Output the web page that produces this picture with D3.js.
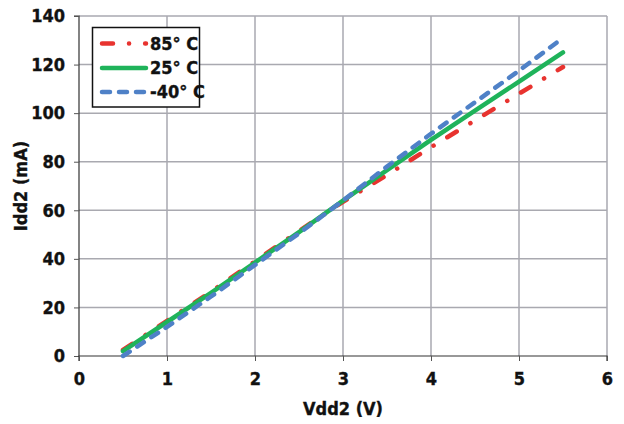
<!DOCTYPE html>
<html>
<head>
<meta charset="utf-8">
<script src="https://cdn.jsdelivr.net/npm/d3@7"></script>
<style>
  html, body { margin: 0; padding: 0; background: #fff; }
  svg { display: block; }
  text { font-family: "Liberation Sans Narrow", "DejaVu Sans Condensed", "Roboto Condensed", sans-serif; font-weight: bold; font-stretch: condensed; fill: #111; stroke: #111; stroke-width: 0.35px; }
</style>
</head>
<body>
<svg id="chart" width="624" height="424"></svg>
<script>
const vdd = [0.5, 1, 1.5, 2, 2.5, 3, 3.5, 4, 4.5, 5, 5.5];
const idd85 = [2.5, 14.5, 26.5, 39, 51.5, 63.5, 74.5, 86, 97, 108, 119];
const idd25 = [2, 14, 26, 38.5, 51, 64, 76.5, 89, 101, 113, 125];
const iddM40 = [0, 12, 24.5, 37.5, 50.5, 64, 78, 91.5, 104.5, 117.5, 131];
const seriesNames = ["85° C", "25° C", "-40° C"];
const seriesColors = ["#e8332f", "#1fb35a", "#4f81c7"];
const xTicks = [0, 1, 2, 3, 4, 5, 6];
const yTicks = [0, 20, 40, 60, 80, 100, 120, 140];
const xTitle = "Vdd2 (V)";
const yTitle = "Idd2 (mA)";

const svg = d3.select("#chart");
const m = { left: 79, right: 607, top: 16, bottom: 356 };
const x = d3.scaleLinear().domain([0, 6]).range([m.left, m.right]);
const y = d3.scaleLinear().domain([0, 140]).range([m.bottom, m.top]);

// grid
const grid = svg.append("g").attr("stroke", "#a9a9b0").attr("stroke-width", 1.5);
xTicks.filter(d => d > 0).forEach(d => {
  grid.append("line").attr("x1", x(d)).attr("x2", x(d)).attr("y1", y(0)).attr("y2", y(140));
});
yTicks.filter(d => d > 0).forEach(d => {
  grid.append("line").attr("x1", x(0)).attr("x2", x(6)).attr("y1", y(d)).attr("y2", y(d));
});

// axes
const yAxis = d3.axisLeft(y).tickValues(yTicks).tickSize(5).tickPadding(9).tickFormat(d3.format("d"));
const xAxis = d3.axisBottom(x).tickValues(xTicks).tickSize(5).tickPadding(7).tickFormat(d3.format("d"));
const gy = svg.append("g").attr("transform", `translate(${m.left},0)`).call(yAxis);
const gx = svg.append("g").attr("transform", `translate(0,${m.bottom})`).call(xAxis);
[gx, gy].forEach(g => {
  g.select(".domain").attr("stroke", "#333").attr("stroke-width", 1.2);
  g.selectAll(".tick line").attr("stroke", "#555").attr("stroke-width", 1);
  g.selectAll(".tick text").attr("font-size", 18).attr("fill", "#111")
    .style("font-family", "'Liberation Sans Narrow', 'DejaVu Sans Condensed', sans-serif").style("font-weight", "bold");
});
gy.select(".domain").attr("d", `M-5,${m.top}H0V${m.bottom}`);
gx.select(".domain").attr("d", `M${m.left},5V0H${m.right}V5`);
gx.selectAll(".tick text").attr("dy", "0.95em");

// titles
svg.append("text").attr("x", (m.left + m.right) / 2).attr("y", 415).attr("text-anchor", "middle")
  .attr("font-size", 18).text(xTitle);
svg.append("text").attr("transform", `translate(27,${(m.top + m.bottom) / 2}) rotate(-90)`)
  .attr("text-anchor", "middle").attr("font-size", 18).text(yTitle);

// lines
const series = [idd85, idd25, iddM40];
const dashes = ["11,16,0.1,16", null, "8,9"];
const line = d3.line().x((d, i) => x(vdd[i])).y(d => y(d));
series.forEach((s, k) => {
  const p = svg.append("path").datum(s).attr("d", line).attr("fill", "none")
    .attr("stroke", seriesColors[k]).attr("stroke-width", 4.5)
    .attr("stroke-linecap", "round").attr("stroke-linejoin", "round");
  if (dashes[k]) p.attr("stroke-dasharray", dashes[k]);
});

// legend
const lg = svg.append("g");
lg.append("rect").attr("x", 92.5).attr("y", 27.5).attr("width", 107).attr("height", 79.5)
  .attr("fill", "#fff").attr("stroke", "#111").attr("stroke-width", 1.5);
const rowsY = [43.5, 68, 92];
seriesNames.forEach((n, k) => {
  const l = lg.append("line").attr("x1", 102).attr("x2", 146).attr("y1", rowsY[k]).attr("y2", rowsY[k])
    .attr("stroke", seriesColors[k]).attr("stroke-width", 4.5).attr("stroke-linecap", "round");
  if (dashes[k]) l.attr("stroke-dasharray", k === 0 ? "11,16,0.1,16" : "8,9");
  lg.append("text").attr("x", 150).attr("y", rowsY[k]).attr("dy", "0.36em").attr("font-size", 18).text(n);
});
</script>
</body>
</html>
